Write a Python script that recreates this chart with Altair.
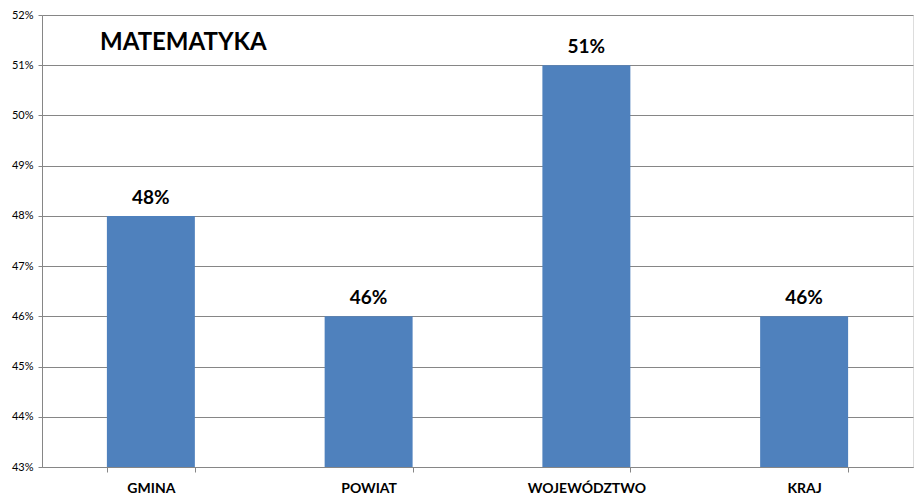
import altair as alt
import pandas as pd

title_text = "MATEMATYKA"
categories = ["GMINA", "POWIAT", "WOJEWÓDZTWO", "KRAJ"]
values = [0.48, 0.46, 0.51, 0.46]
y_ticks = [0.43, 0.44, 0.45, 0.46, 0.47, 0.48, 0.49, 0.50, 0.51, 0.52]

df = pd.DataFrame({"cat": categories, "val": values})

FONT = "Lato"
GRID = "#868686"

x = alt.X("cat:N", sort=categories, title=None,
          scale=alt.Scale(paddingInner=0.596, paddingOuter=0.298),
          axis=alt.Axis(labelAngle=0, labelFont=FONT, labelFontSize=14, labelFontWeight="bold",
                        labelColor="#000000", labelPadding=9, tickBand="extent",
                        tickColor=GRID, tickSize=5, domainColor=GRID, grid=False))
y = alt.Y("val:Q", title=None,
          scale=alt.Scale(domain=[0.43, 0.52], zero=False, nice=False),
          axis=alt.Axis(values=y_ticks, format=".0%", labelFont=FONT, labelFontSize=11,
                        labelColor="#000000", labelPadding=5, tickColor=GRID, tickSize=4,
                        domainColor=GRID, gridColor=GRID, gridWidth=1))

base = alt.Chart(df)
bars = base.mark_bar(color="#4F81BD").encode(x=x, y=y, y2=alt.datum(0.43))
labels = base.mark_text(font=FONT, fontSize=19, fontWeight="bold", color="#000000",
                        baseline="bottom", dy=-8).encode(
    x=alt.X("cat:N", sort=categories), y="val:Q", text=alt.Text("val:Q", format=".0%"))

title_mark = alt.Chart(pd.DataFrame({"t": [title_text]})).mark_text(
    font=FONT, fontSize=24, fontWeight="bold", color="#000000",
    align="left", baseline="top").encode(
    x=alt.value(58), y=alt.value(16), text="t:N")

chart = (bars + labels + title_mark).properties(
    width=871, height=452,
    autosize=alt.AutoSizeParams(type="none"),
    padding={"left": 34, "top": 7, "right": 2, "bottom": 30},
).configure_view(stroke=None).configure(background="white")

chart.save("out.html", embed_options={"renderer": "svg", "actions": False})
